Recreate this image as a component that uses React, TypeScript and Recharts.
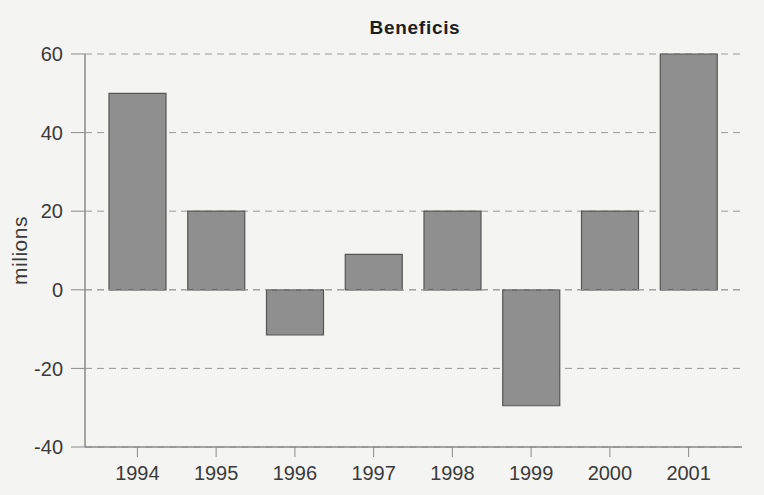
import { BarChart, Bar, XAxis, YAxis, CartesianGrid, ReferenceLine } from "recharts";

const years = ["1994", "1995", "1996", "1997", "1998", "1999", "2000", "2001"];
const profits = [50, 20, -11.5, 9, 20, -29.5, 20, 60];
const yTicks = [-40, -20, 0, 20, 40, 60];

const data = years.map((year, i) => ({ year, value: profits[i] }));

const font = "'Liberation Sans', Arial, sans-serif";
const tickStyle = { fill: "#3a3a3a", fontSize: 20, fontFamily: font };

export default function App() {
  return (
    <div
      style={{
        position: "absolute",
        top: 0,
        left: 0,
        width: 764,
        height: 495,
        background: "#f4f4f3",
      }}
    >
      <div
        style={{
          position: "absolute",
          top: 17,
          left: 315,
          width: 200,
          textAlign: "center",
          fontFamily: font,
          fontWeight: "bold",
          fontSize: 19,
          letterSpacing: 0.7,
          color: "#1e1e1e",
        }}
      >
        Beneficis
      </div>
      <BarChart
        width={764}
        height={495}
        data={data}
        margin={{ top: 54, right: 22, bottom: 0, left: 0 }}
        barSize={57}
      >
        <CartesianGrid
          horizontal
          vertical={false}
          stroke="#9a9a9a"
          strokeDasharray="7 5"
        />
        <XAxis
          dataKey="year"
          height={48}
          padding={{ left: 13, right: 14 }}
          tick={tickStyle}
          tickSize={10}
          tickMargin={9}
          stroke="#8a8a8a"
          axisLine={{ stroke: "#8a8a8a", strokeWidth: 1.5 }}
        />
        <YAxis
          width={85}
          domain={[-40, 60]}
          ticks={yTicks}
          tick={tickStyle}
          tickSize={14}
          tickMargin={8}
          stroke="#8a8a8a"
          axisLine={{ stroke: "#8a8a8a", strokeWidth: 1.5 }}
          label={{
            value: "milions",
            angle: -90,
            position: "insideLeft",
            offset: 20,
            style: {
              fill: "#3a3a3a",
              fontSize: 21,
              fontFamily: font,
              textAnchor: "middle",
              letterSpacing: 0.5,
            },
          }}
        />
        <ReferenceLine y={0} stroke="#9a9a9a" strokeDasharray="7 5" />
        <Bar
          dataKey="value"
          fill="#8f8f8f"
          stroke="#555555"
          strokeWidth={1.2}
          isAnimationActive={false}
        />
      </BarChart>
    </div>
  );
}
